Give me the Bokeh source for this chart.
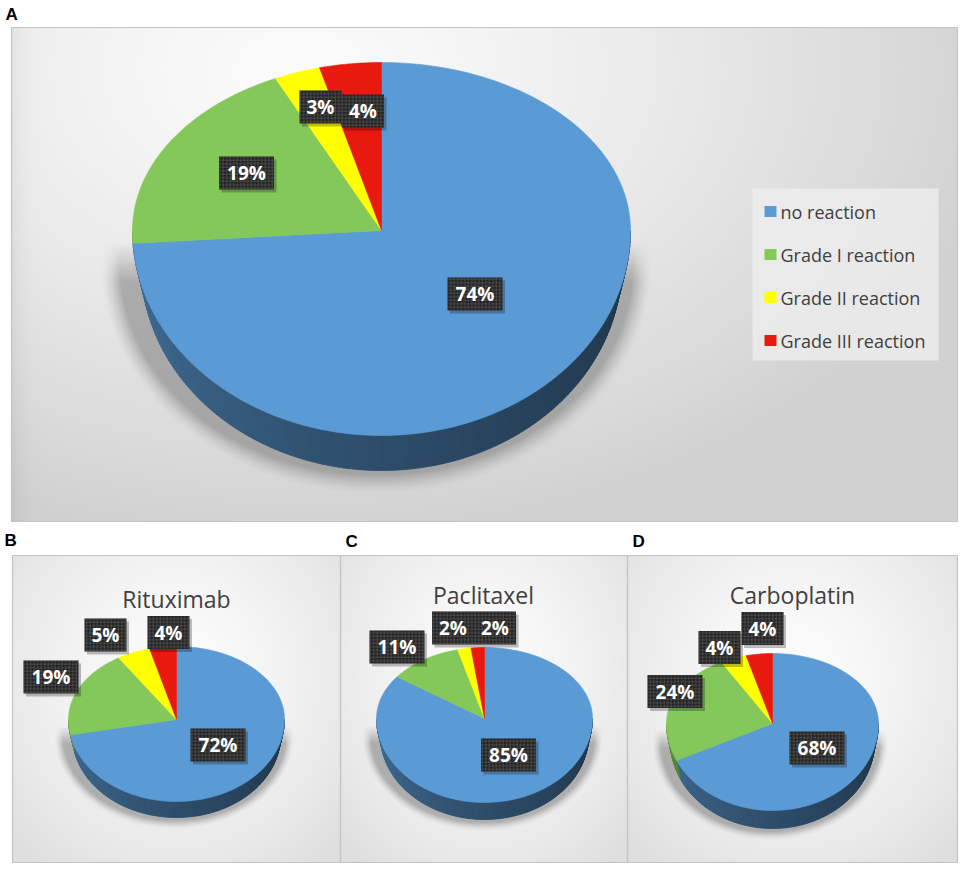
import numpy as np
from bokeh.plotting import figure
from bokeh.models import Range1d
from bokeh.embed import file_html
from bokeh.resources import INLINE
from bokeh.core.properties import value

# ---------------- data ----------------
categories = ["no reaction", "Grade I reaction", "Grade II reaction", "Grade III reaction"]
slice_colors = ["#5b9bd5", "#84c85a", "#ffff00", "#e8190e"]
panel_letters = ["A", "B", "C", "D"]
panel_titles = ["", "Rituximab", "Paclitaxel", "Carboplatin"]
overall_pct = [74, 19, 3, 4]
rituximab_pct = [72, 19, 5, 4]
paclitaxel_pct = [85, 11, 2, 2]
carboplatin_pct = [68, 24, 4, 4]

# ---------------- layout (screen pixels) ----------------
W, H = 965, 871
panels = [
    dict(values=overall_pct, box=(11, 27, 957, 521), c=(381, 230), rx=249, ryt=168, ryb=205,
         depth=35, shrink=9, blur=20, letter=(5, 14), title=None, label_size="19px",
         labels=[(474.5, 293.5), (246, 172.5), (320, 106.5), (362.5, 110.5)]),
    dict(values=rituximab_pct, box=(12, 555, 340, 862), c=(176, 719), rx=108, ryt=73, ryb=82,
         depth=16, shrink=4, blur=9, letter=(4, 540), title=(176, 598), label_size="19px",
         labels=[(217.5, 744.5), (50.5, 676.5), (105, 634.5), (168, 632)]),
    dict(values=paclitaxel_pct, box=(340, 555, 627, 862), c=(484, 718), rx=108, ryt=71, ryb=84,
         depth=17, shrink=4, blur=9, letter=(345, 541), title=(483, 594), label_size="19px",
         labels=[(508, 754.5), (396.5, 646.5), (452.5, 627.5), (494.5, 627.5)]),
    dict(values=carboplatin_pct, box=(627, 555, 957, 862), c=(772, 723), rx=106, ryt=70, ryb=87,
         depth=18, shrink=4, blur=9, letter=(632, 541), title=(792, 594), label_size="19px",
         labels=[(816.5, 747.5), (674.5, 691), (719, 647), (762, 628)]),
]
legend_box = (752, 188, 938, 360)
legend_rows = [211, 254, 297, 340]


def Y(v):
    return -np.asarray(v, dtype=float)


def hex_rgb(h):
    h = h.lstrip("#")
    return tuple(int(h[i:i + 2], 16) for i in (0, 2, 4))


def shade(h, f):
    r, g, b = hex_rgb(h)
    return "#%02x%02x%02x" % (int(r * f), int(g * f), int(b * f))


def rim(pn, phi_deg):
    cx, cy = pn["c"]
    ph = np.radians(phi_deg)
    c = np.cos(ph)
    ry = np.where(c >= 0, pn["ryt"], pn["ryb"])
    return cx + pn["rx"] * np.sin(ph), cy - ry * c


def rim_bottom(pn, phi_deg):
    cx, cy = pn["c"]
    ph = np.radians(phi_deg)
    return (cx + (pn["rx"] - pn["shrink"]) * np.sin(ph),
            cy + pn["depth"] - pn["ryb"] * np.cos(ph))


def background(pn, big):
    x0, y0, x1, y1 = pn["box"]
    s = 2
    nw, nh = (x1 - x0) // s, (y1 - y0) // s
    xs = x0 + (np.arange(nw) + 0.5) * s
    ys = y0 + (np.arange(nh) + 0.5) * s
    X, Yg = np.meshgrid(xs, ys)
    if big:
        d = np.sqrt(((X - 300) / 720.0) ** 2 + ((Yg - 70) / 470.0) ** 2)
        v = 251 - 42 * np.clip(d, 0, 1) ** 1.3
        v -= 14 * np.exp(-(X - x0) / 9.0)
    else:
        mx = (x0 + x1) / 2
        d = np.sqrt(((X - mx) / ((x1 - x0) * 0.7)) ** 2 + ((Yg - (y0 + 120)) / ((y1 - y0) * 0.8)) ** 2)
        v = 252 - 30 * np.clip(d, 0, 1) ** 1.5
    # soft shadow behind / under the pie
    cx, cy = pn["c"]
    rx, ryb, dep, bl = pn["rx"], pn["ryb"], pn["depth"], pn["blur"]
    grow = bl * 0.35
    dxn = (X - (cx - bl * 0.25)) / (rx + grow)
    dyn = np.maximum(0, Yg - (cy + dep)) / (ryb + grow * 0.6)
    e = np.sqrt(dxn ** 2 + dyn ** 2) + 1e-9
    scale = np.sqrt(((rx + grow) * dxn) ** 2 + ((ryb + grow * 0.6) * dyn) ** 2) / e
    dist = (e - 1) * scale
    a = 0.5 * np.clip(1 - dist / bl, 0, 1) ** 1.5
    a *= np.clip((Yg - (cy + bl * 0.6)) / (bl * 2.0), 0, 1)
    v = v * (1 - a) + 110 * a
    v = np.clip(v, 0, 255).astype(np.uint8)
    img = np.empty((nh, nw), dtype=np.uint32)
    view = img.view(dtype=np.uint8).reshape((nh, nw, 4))
    view[..., 0] = v
    view[..., 1] = v
    view[..., 2] = v
    view[..., 3] = 255
    return img[::-1], x0, y1, x1 - x0, y1 - y0


p = figure(width=W, height=H, x_range=Range1d(0, W), y_range=Range1d(-H, 0),
           output_backend="svg", toolbar_location=None, min_border=0)
p.axis.visible = False
p.grid.visible = False
p.outline_line_color = None
p.background_fill_color = "white"
p.border_fill_color = "white"

# panel backgrounds and frames
for i, pn in enumerate(panels):
    img, bx, by, bw, bh = background(pn, i == 0)
    p.image_rgba(image=[img], x=bx, y=-by, dw=bw, dh=bh)
for pn in panels:
    x0, y0, x1, y1 = pn["box"]
    p.quad(left=x0, right=x1, top=Y(y0), bottom=Y(y1), fill_color=None,
           line_color="#c4c4c4", line_width=1.2)

# pies
for pn in panels:
    vals = np.asarray(pn["values"], dtype=float)
    ends = np.cumsum(vals) / vals.sum() * 360.0
    starts = np.concatenate([[0.0], ends[:-1]])
    sx, sy, sc = [], [], []
    tx, ty, tc = [], [], []
    for k in range(len(vals)):
        a0, a1 = starts[k], ends[k]
        lo, hi = max(a0, 90.0), min(a1, 270.0)
        if hi > lo:
            n = max(2, int((hi - lo) / 1.0) + 1)
            ang = np.linspace(lo, hi, n)
            for j in range(n - 1):
                xa, ya = rim(pn, ang[j])
                xb, yb = rim(pn, ang[j + 1])
                xc, yc = rim_bottom(pn, ang[j + 1])
                xd, yd = rim_bottom(pn, ang[j])
                sx.append([float(xa), float(xb), float(xc), float(xd)])
                sy.append(list(Y([ya, yb, yc, yd])))
                t = ((ang[j] + ang[j + 1]) / 2 - 90.0) / 180.0
                sc.append(shade(slice_colors[k], 0.36 + 0.36 * t ** 1.4))
        n = max(3, int((a1 - a0) / 1.0) + 2)
        ang = np.linspace(a0, a1, n)
        xr, yr = rim(pn, ang)
        tx.append([pn["c"][0]] + list(xr))
        ty.append(list(Y([pn["c"][1]] + list(yr))))
        tc.append(slice_colors[k])
    p.patches(xs=sx, ys=sy, fill_color=sc, line_color=sc, line_width=0.8)
    p.patches(xs=tx, ys=ty, fill_color=tc, line_color=tc, line_width=0.6)

# legend (panel A)
lx0, ly0, lx1, ly1 = legend_box
p.quad(left=lx0, right=lx1, top=Y(ly0), bottom=Y(ly1), fill_color="#efefef",
       fill_alpha=0.75, line_color=None)
p.rect(x=[770] * len(categories), y=Y(legend_rows), width=12, height=11,
       fill_color=slice_colors, line_color=None)
p.text(x=[780] * len(categories), y=Y(legend_rows), text=categories,
       text_font=value("Open Sans"), text_font_size="18px", text_color="#404040",
       text_align="left", text_baseline="middle")

# data labels
for pn in panels:
    vals = pn["values"]
    txt = ["%d%%" % v for v in vals]
    lxs = [q[0] for q in pn["labels"]]
    lys = [q[1] for q in pn["labels"]]
    wid = [42 if v < 10 else 55 for v in vals]
    p.rect(x=[x + 2.5 for x in lxs], y=Y([y + 3 for y in lys]), width=wid, height=33,
           fill_color="#000000", fill_alpha=0.25, line_color=None)
    p.rect(x=lxs, y=Y(lys), width=wid, height=33, fill_color="#222222", line_color=None,
           hatch_pattern="+", hatch_color="#6a6a6a", hatch_scale=3.5, hatch_weight=0.6,
           hatch_alpha=0.8)
    p.text(x=lxs, y=Y(lys), text=txt, text_font=value("Open Sans"),
           text_font_size=pn["label_size"], text_font_style="bold", text_color="white",
           text_align="center", text_baseline="middle")

# titles
tpos = [pn["title"] for pn in panels if pn["title"] is not None]
ttxt = [t for t, pn in zip(panel_titles, panels) if pn["title"] is not None]
p.text(x=[q[0] for q in tpos], y=Y([q[1] for q in tpos]), text=ttxt,
       text_font=value("Open Sans"), text_font_size="23px", text_color="#404040",
       text_align="center", text_baseline="middle")

# panel letters
p.text(x=[pn["letter"][0] for pn in panels], y=Y([pn["letter"][1] for pn in panels]),
       text=panel_letters, text_font=value("Liberation Sans"), text_font_size="17px",
       text_font_style="bold", text_color="#000000", text_align="left",
       text_baseline="middle")

open("out.html", "w").write(file_html(p, INLINE))
